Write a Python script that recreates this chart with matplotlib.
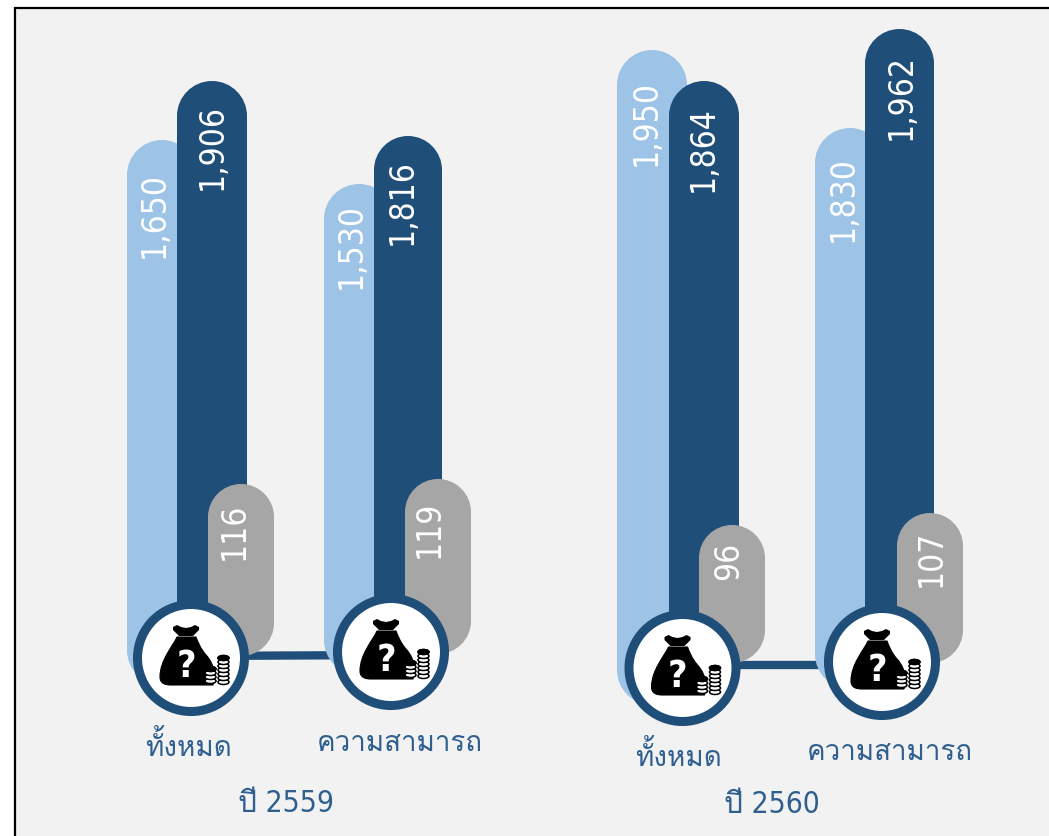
import matplotlib
matplotlib.use('Agg')
import matplotlib.pyplot as plt
from matplotlib import font_manager
from matplotlib.patches import Circle, Ellipse, PathPatch, Rectangle
from matplotlib.path import Path
from matplotlib.ft2font import FT2Font

# values printed on the bars
year_labels = ['ปี 2559', 'ปี 2560']
category_labels = ['ทั้งหมด', 'ความสามารถ', 'ทั้งหมด', 'ความสามารถ']
light_values = [1650, 1530, 1950, 1830]
dark_values = [1906, 1816, 1864, 1962]
gray_values = [116, 119, 96, 107]

# drawn lengths of the bars, the picture does not keep one scale
light_heights = [545, 491, 655, 561]
dark_heights = [580, 518, 590, 635]
gray_heights = [172, 175, 138, 150]

DARK = '#1F4E79'
LIGHT = '#9DC3E6'
GRAY = '#A6A6A6'
TEXT = '#2F5F8F'
PANEL = '#F2F2F2'
KAPPA = 0.5523


# look for an installed family that really has Thai glyphs
def find_thai_family():
    for f in font_manager.fontManager.ttflist:
        try:
            if ord('ม') in FT2Font(f.fname).get_charmap():
                return f.name
        except Exception:
            pass
    return 'DejaVu Sans'


thai_family = find_thai_family()
plt.rcParams['font.family'] = [thai_family, 'DejaVu Sans']
digit_family = ['DejaVu Sans', thai_family]

fig = plt.figure(figsize=(10.49, 8.37), dpi=100)
ax = fig.add_axes([0, 0, 1, 1])
ax.set_xlim(0, 1049)
ax.set_ylim(837, 0)
ax.axis('off')

ax.add_patch(Rectangle((15, 9), 1040, 840, fc=PANEL, ec='black', lw=1.6, zorder=0))


def round_bar(left, width, top, height, color, radius, z):
    x0, x1, y0, y1 = left, left + width, top, top + height
    k = radius * (1 - KAPPA)
    verts = [(x0, y0 + radius),
             (x0, y0 + k), (x0 + k, y0), (x0 + radius, y0),
             (x1 - radius, y0),
             (x1 - k, y0), (x1, y0 + k), (x1, y0 + radius),
             (x1, y1 - radius),
             (x1, y1 - k), (x1 - k, y1), (x1 - radius, y1),
             (x0 + radius, y1),
             (x0 + k, y1), (x0, y1 - k), (x0, y1 - radius),
             (x0, y0 + radius)]
    codes = [Path.MOVETO] + [Path.CURVE4] * 3 + [Path.LINETO] + [Path.CURVE4] * 3 + [Path.LINETO] \
        + [Path.CURVE4] * 3 + [Path.LINETO] + [Path.CURVE4] * 3 + [Path.CLOSEPOLY]
    ax.add_patch(PathPatch(Path(verts, codes), fc=color, ec='none', zorder=z))


def money_bag(cx, cy):
    # bag
    verts = [(-14, -21),
             (-18, -12), (-31, 2), (-31, 19),
             (-31, 26), (-25, 27), (-20, 27),
             (22, 27),
             (24, 20), (25, 8), (15, -3),
             (9, -10), (7, -16), (5, -21),
             (-14, -21)]
    codes = [Path.MOVETO] + [Path.CURVE4] * 6 + [Path.LINETO] + [Path.CURVE4] * 6 + [Path.CLOSEPOLY]
    pts = [(cx + x, cy + y) for x, y in verts]
    ax.add_patch(PathPatch(Path(pts, codes), fc='black', ec='black', lw=0.8, zorder=7))
    # tie on top
    tie = [(-18, -31), (-14, -33), (-10, -31), (-5, -30), (0, -31), (4, -33), (8, -31), (8, -28), (4, -24), (2, -22),
           (-12, -22), (-14, -24), (-18, -28)]
    ax.fill([cx + x for x, y in tie], [cy + y for x, y in tie], color='black', lw=0, zorder=7)
    ax.text(cx - 5, cy + 8, '?', color='white', fontsize=27, family='DejaVu Sans',
            ha='center', va='center', fontweight='bold', stretch='condensed', zorder=8)
    # coin stacks
    for x0, y0, n in [(19.5, 11, 4), (32.5, 0, 7)]:
        for i in range(n - 1, -1, -1):
            y = y0 + i * 4
            ax.add_patch(Ellipse((cx + x0, cy + y), 11, 5, fc='white', ec='black', lw=1.1, zorder=8))
        ax.add_patch(Ellipse((cx + x0, cy + y0), 11, 5, fc='black', ec='black', lw=1, zorder=9))


# layout in pixels: bar lefts, bottoms and icon centres
light_left = [127, 324, 617, 815]
dark_left = [177, 374, 669, 865]
gray_left = [208, 405, 699, 897]
dark_width = [70, 68, 70, 69]
light_bottom = [686, 676, 706, 690]
dark_bottom = [662, 655, 672, 665]
gray_bottom = [657, 655, 664, 664]
centers = [(191, 659), (391, 653), (682.5, 669), (882, 663)]
light_text = [(154, 215), (351, 246), (646, 123), (843, 199)]
dark_text = [(212, 147), (402, 202), (703, 149), (901, 97)]
gray_text = [(234, 531), (429, 529), (729, 561), (931, 558)]
category_pos = [(188, 746), (400, 744), (679, 756), (890, 753)]
year_pos = [(286, 804), (772, 805)]

# connectors between the two icons of a year
ax.plot([centers[0][0], centers[1][0]], [centers[0][1] - 2, centers[1][1] + 3], color=DARK, lw=6, zorder=1, solid_capstyle='butt')
ax.plot([centers[2][0], centers[3][0]], [centers[2][1] - 3, centers[3][1] + 3], color=DARK, lw=6, zorder=1, solid_capstyle='butt')

for i in range(4):
    round_bar(light_left[i], 70, light_bottom[i] - light_heights[i], light_heights[i], LIGHT, 35, 2)
    round_bar(dark_left[i], dark_width[i], dark_bottom[i] - dark_heights[i], dark_heights[i], DARK, dark_width[i] / 2, 3)
    round_bar(gray_left[i], 66, gray_bottom[i] - gray_heights[i], gray_heights[i], GRAY, 33, 4)

    for (tx, ty), label in [(light_text[i], f'{light_values[i]:,}'), (dark_text[i], f'{dark_values[i]:,}'), (gray_text[i], f'{gray_values[i]}')]:
        ax.text(tx, ty, label, color='white', fontsize=24, family='DejaVu Sans', stretch='condensed',
                rotation=90, ha='center', va='center', zorder=5)

    cx, cy = centers[i]
    ax.add_patch(Circle((cx, cy), 53.5, fc='white', ec=DARK, lw=6.5, zorder=6))
    money_bag(cx, cy)

    ax.text(*category_pos[i], category_labels[i], color=TEXT, fontsize=20, ha='center', va='center', zorder=5)

for pos, label in zip(year_pos, year_labels):
    ax.text(*pos, label, color=TEXT, fontsize=21.5, family=digit_family, stretch='condensed', ha='center', va='center', zorder=5)

fig.savefig('out.png', dpi=100, facecolor='white')
